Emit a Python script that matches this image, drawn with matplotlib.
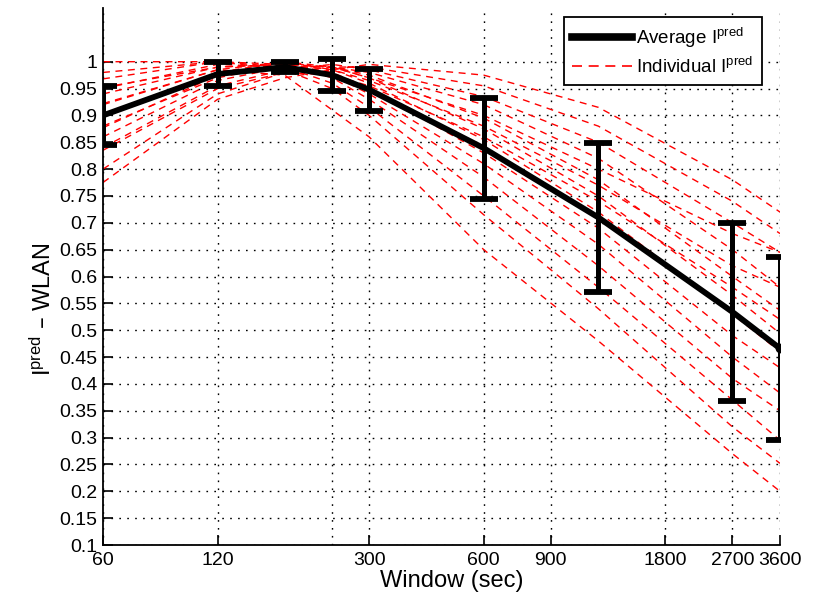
import matplotlib
matplotlib.use("Agg")
import matplotlib.pyplot as plt
from matplotlib.ticker import FixedLocator, NullFormatter, FixedFormatter
from matplotlib.lines import Line2D

plt.rcParams['font.family'] = ['Liberation Sans', 'DejaVu Sans']
plt.rcParams['mathtext.default'] = 'regular'

windows = [60, 120, 180, 240, 300, 600, 1200, 2700, 3600]
avg = [0.90, 0.977, 0.99, 0.975, 0.948, 0.839, 0.71, 0.534, 0.466]
err = [0.055, 0.023, 0.01, 0.03, 0.039, 0.094, 0.138, 0.166, 0.17]

individual = [
    [0.775, 0.93, 0.97, 0.985, 0.995, 0.975, 0.915, 0.78, 0.72],
    [0.80, 0.94, 0.98, 0.99, 0.99, 0.955, 0.88, 0.74, 0.68],
    [0.84, 0.955, 0.985, 0.995, 0.985, 0.935, 0.85, 0.70, 0.645],
    [0.86, 0.965, 0.99, 0.99, 0.98, 0.92, 0.82, 0.65, 0.58],
    [0.88, 0.97, 0.995, 0.99, 0.975, 0.895, 0.78, 0.60, 0.537],
    [0.90, 0.98, 1.0, 0.99, 0.97, 0.875, 0.75, 0.565, 0.494],
    [0.92, 0.985, 1.0, 0.985, 0.96, 0.855, 0.72, 0.53, 0.46],
    [0.94, 0.99, 0.995, 0.98, 0.95, 0.83, 0.69, 0.49, 0.43],
    [0.95, 0.995, 0.99, 0.975, 0.94, 0.81, 0.66, 0.45, 0.383],
    [0.968, 1.0, 0.995, 0.97, 0.93, 0.785, 0.62, 0.41, 0.35],
    [0.98, 1.0, 0.99, 0.96, 0.915, 0.75, 0.58, 0.37, 0.295],
    [1.0, 1.0, 0.985, 0.95, 0.90, 0.715, 0.54, 0.32, 0.252],
    [0.922, 0.985, 0.975, 0.91, 0.86, 0.65, 0.48, 0.27, 0.20],
    [0.952, 0.99, 0.995, 0.985, 0.965, 0.88, 0.77, 0.62, 0.58],
    [0.877, 0.975, 0.995, 0.99, 0.97, 0.90, 0.80, 0.68, 0.645],
    [0.835, 0.95, 0.98, 0.975, 0.955, 0.86, 0.74, 0.58, 0.52],
]

xticks = [60, 120, 300, 600, 900, 1800, 2700, 3600]
xticklabels = ['60', '120', '300', '600', '900', '1800', '2700', '3600']
minor_grid_x = [240]
yticks = [round(0.1 + 0.05 * i, 2) for i in range(19)]
yticklabels = ['0.1', '0.15', '0.2', '0.25', '0.3', '0.35', '0.4', '0.45', '0.5',
               '0.55', '0.6', '0.65', '0.7', '0.75', '0.8', '0.85', '0.9', '0.95', '1']

fig = plt.figure(figsize=(8.13, 6.0), dpi=100)
ax = fig.add_axes([103 / 813, 1 - 545 / 600, (780 - 103) / 813, (545 - 8) / 600])

for vals in individual:
    ax.plot(windows, vals, color='red', lw=1.0, dashes=(5, 4), zorder=2)

ax.errorbar(windows, avg, yerr=err, color='black', lw=4.2, elinewidth=3.6,
            capsize=10, capthick=4.2, zorder=4)
ax.plot(windows[-1:], avg[-1:], 'o', color='black', ms=6, zorder=5)

ax.set_xscale('log')
ax.set_xlim(60, 3600)
ax.set_ylim(0.1, 1.1)
ax.xaxis.set_major_locator(FixedLocator(xticks))
ax.xaxis.set_major_formatter(FixedFormatter(xticklabels))
ax.xaxis.set_minor_locator(FixedLocator(minor_grid_x))
ax.xaxis.set_minor_formatter(NullFormatter())
ax.set_yticks(yticks)
ax.set_yticklabels(yticklabels)

ax.grid(which='major', color='black', linestyle=(0, (1.2, 4.5)), lw=1.0, zorder=1)
ax.grid(which='minor', axis='x', color='black', linestyle=(0, (1.2, 4.5)), lw=1.0)
ax.tick_params(which='major', direction='in', length=7, width=1.2, labelsize=14,
               pad=4)
ax.tick_params(axis='x', pad=5)
ax.tick_params(which='minor', length=0)
for s in ['top', 'right']:
    ax.spines[s].set_visible(False)
for s in ['left', 'bottom']:
    ax.spines[s].set_linewidth(1.3)

ax.set_xlabel('Window (sec)', fontsize=17)
ax.set_ylabel('I$^{pred}$ – WLAN', fontsize=17)
ax.xaxis.set_label_coords(0.515, -0.067, transform=ax.transAxes)
ax.xaxis.label.set_va('center')
ax.yaxis.set_label_coords(-0.088, 0.44, transform=ax.transAxes)
ax.yaxis.label.set_va('center')

h_avg = Line2D([], [], color='black', lw=5.5)
h_ind = Line2D([], [], color='red', lw=1.2, dashes=(6, 4))
leg = ax.legend([h_avg, h_ind], ['Average I$^{pred}$', 'Individual I$^{pred}$'],
                loc='upper right', fontsize=13.5, fancybox=False, framealpha=1,
                edgecolor='black', borderaxespad=0.5, handlelength=3.2,
                handletextpad=0.2, borderpad=0.45, labelspacing=0.35,
                bbox_to_anchor=(0.987, 1.0))
leg.get_frame().set_linewidth(1.3)

fig.savefig('out.png', dpi=100)
